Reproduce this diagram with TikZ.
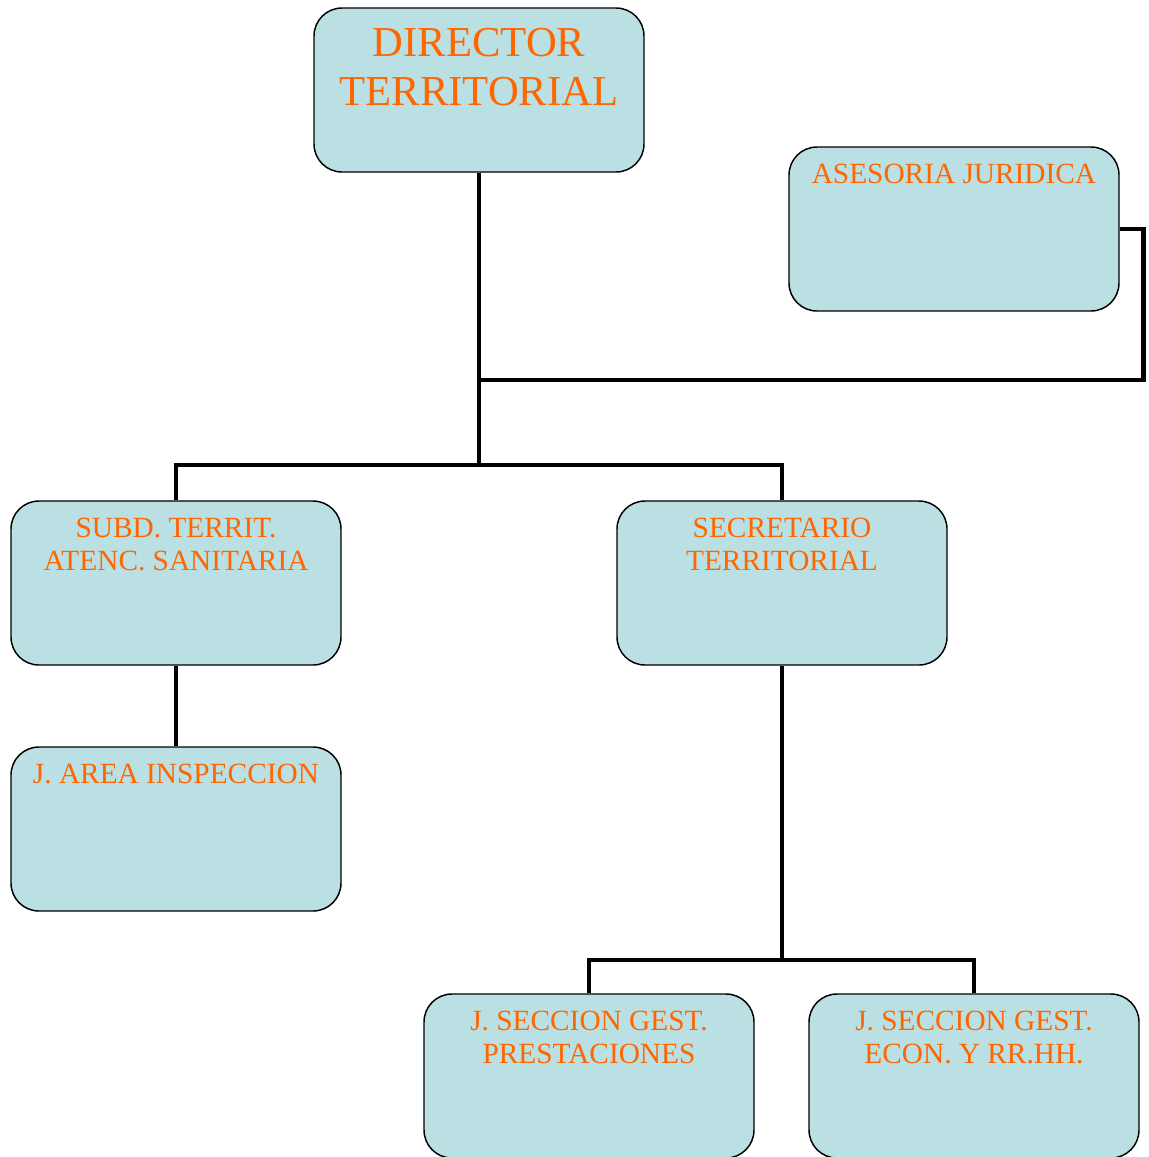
\documentclass[tikz,border=0pt]{standalone}
\usepackage{fontspec}
\setmainfont{Liberation Serif}
\usetikzlibrary{positioning}
\definecolor{boxfill}{RGB}{187,224,227}
\definecolor{orgorange}{RGB}{255,102,0}
\newcommand{\boxtext}[4]{\parbox[c][123pt][t]{247.5pt}{\centering\fontsize{#1}{#2}\selectfont\rule{0pt}{#3}#4}}

\begin{document}
\begin{tikzpicture}[x=0.75pt,y=-0.75pt,
    unit/.style={draw=black,line width=1.1pt,fill=boxfill,rounded corners=21pt,
      minimum width=247.5pt,minimum height=123pt,inner sep=0pt,text=orgorange},
    link/.style={line width=3.6pt,line join=miter}]
     \useasboundingbox (0,0) rectangle (1149,1157);
     \node[unit] (dt)   at (479,90)   {\boxtext{32pt}{36.75pt}{36.5pt}{DIRECTOR\\TERRITORIAL}};
     \node[unit] (aj)   at (954,229)  {\boxtext{22pt}{24.75pt}{27.5pt}{ASESORIA JURIDICA}};
     \node[unit] (subd) at (176,583)  {\boxtext{22pt}{24.75pt}{27.5pt}{SUBD. TERRIT.\\ATENC. SANITARIA}};
     \node[unit] (sec)  at (782,583)  {\boxtext{22pt}{24.75pt}{27.5pt}{SECRETARIO\\TERRITORIAL}};
     \node[unit] (jai)  at (176,829)  {\boxtext{22pt}{24.75pt}{27.5pt}{J. AREA INSPECCION}};
     \node[unit] (jsp)  at (589,1076) {\boxtext{22pt}{24.75pt}{27.5pt}{J. SECCION GEST.\\PRESTACIONES}};
     \node[unit] (jse)  at (974,1076) {\boxtext{22pt}{24.75pt}{27.5pt}{J. SECCION GEST.\\ECON. Y RR.HH.}};
     \coordinate (ajbend) at (479,380);
     \coordinate (hub) at (479,465);
     \coordinate (sechub) at (782,960);
     \draw[link] (dt.south) -- (hub);
     \draw[link] (aj.east) -- ++(24,0) |- (ajbend);
     \draw[link] (subd.north) |- (hub) -| (sec.north);
     \draw[link] (subd.south) -- (jai.north);
     \draw[link] (sec.south) -- (sechub);
     \draw[link] (jsp.north) |- (sechub) -| (jse.north);
    \end{tikzpicture}
\end{document}
